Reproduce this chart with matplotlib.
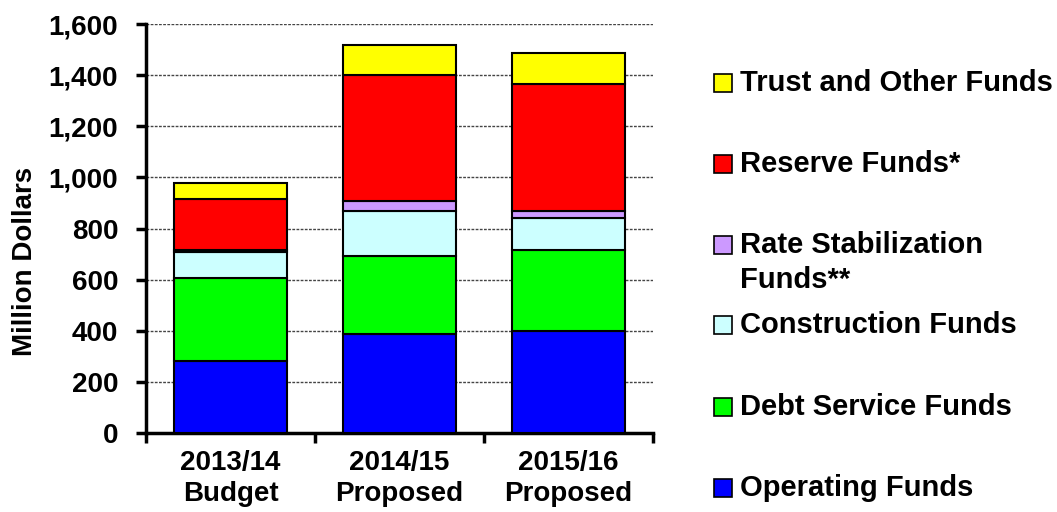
import matplotlib.pyplot as plt
from matplotlib.patches import Rectangle
from matplotlib.ticker import FuncFormatter
import numpy as np

plt.rcParams['font.family'] = ['Liberation Sans', 'DejaVu Sans']
plt.rcParams['font.weight'] = 'bold'

# Dane (mln USD)
categories = ['2013/14\nBudget', '2014/15\nProposed', '2015/16\nProposed']
operating = [283, 389, 398]
debt_service = [323, 305, 317]
construction = [102, 174, 126]
rate_stab = [9, 41, 29]
reserve = [198, 491, 495]
trust = [64, 117, 122]

series = [
    ('Operating Funds', operating, '#0000FF'),
    ('Debt Service Funds', debt_service, '#00FF00'),
    ('Construction Funds', construction, '#CCFFFF'),
    ('Rate Stabilization\nFunds**', rate_stab, '#CC99FF'),
    ('Reserve Funds*', reserve, '#FF0000'),
    ('Trust and Other Funds', trust, '#FFFF00'),
]

fig = plt.figure(figsize=(10.57, 5.12), dpi=100)
ax = fig.add_axes([0.1381, 0.1543, 0.4797, 0.7988])

x = np.arange(len(categories))
bottom = np.zeros(len(categories))
for name, vals, color in series:
    ax.bar(x, vals, width=0.67, bottom=bottom, color=color,
           edgecolor='black', linewidth=1.5, zorder=3)
    bottom += np.array(vals)

# Osie
ax.set_xlim(-0.5, 2.5)
ax.set_ylim(0, 1600)
ax.set_yticks(np.arange(0, 1601, 200))
ax.yaxis.set_major_formatter(FuncFormatter(lambda v, p: f'{int(v):,}'))
ax.grid(axis='y', color='#444444', linestyle=(0, (2, 1)), linewidth=1, zorder=0)

ax.set_xticks(x)
ax.set_xticklabels(categories, fontsize=20, fontweight='bold', linespacing=1.25)
ax.set_xticks([-0.5, 0.5, 1.5, 2.5], minor=True)
ax.tick_params(axis='x', which='major', length=0, pad=12)
ax.tick_params(axis='x', which='minor', length=7, width=2.5, direction='out')
ax.tick_params(axis='y', length=7, width=2.5, direction='out', labelsize=20, pad=13)
for lab in ax.get_yticklabels():
    lab.set_fontweight('bold')

for s in ['top', 'right']:
    ax.spines[s].set_visible(False)
for s in ['left', 'bottom']:
    ax.spines[s].set_linewidth(2.5)

ax.set_ylabel('Million Dollars', fontsize=20, fontweight='bold')
ax.yaxis.set_label_coords(-0.213, 0.42)

# Legenda (ręcznie, kolejność odwrócona)
leg_y = [488, 407, 325, 245, 164, 83]
for (name, vals, color), yp in zip(series, leg_y):
    yf = 1 - yp / 512
    fig.patches.append(Rectangle((714 / 1057, yf - 9 / 512), 18 / 1057, 18 / 512,
                                 transform=fig.transFigure, facecolor=color,
                                 edgecolor='black', linewidth=1.2))
    if '\n' in name:
        fig.text(740 / 1057, yf + 14 / 512, name, fontsize=21, fontweight='bold',
                 va='top', ha='left', linespacing=1.3)
    else:
        fig.text(740 / 1057, yf, name, fontsize=21, fontweight='bold',
                 va='center', ha='left')

fig.savefig('out.png', dpi=100)
